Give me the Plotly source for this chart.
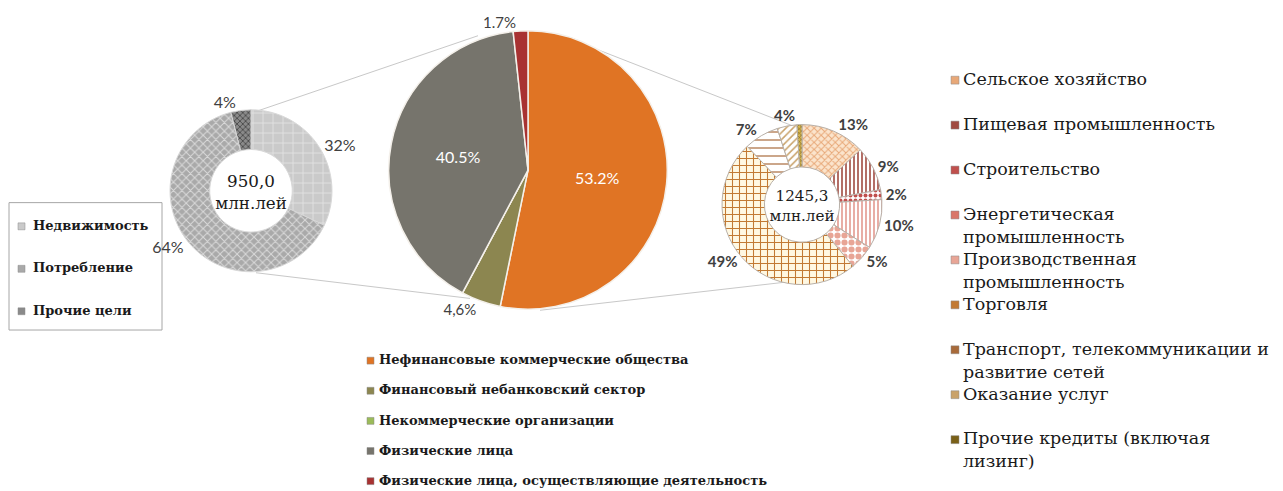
import math
import plotly.graph_objects as go

W, H = 1283, 491          # reference picture size
OFF = 8                   # page body margin of the html page
FW, FH = W - OFF, H - OFF  # figure size so that picture coords line up

# ---------------- data ----------------
sector_labels = ["Нефинансовые коммерческие общества", "Финансовый небанковский сектор",
                 "Некоммерческие организации", "Физические лица",
                 "Физические лица, осуществляющие деятельность"]
sector_values = [53.2, 4.6, 0.0, 40.5, 1.7]
sector_text = ["53.2%", "4,6%", "", "40.5%", "1.7%"]

indiv_labels = ["Недвижимость", "Потребление", "Прочие цели"]
indiv_values = [32, 64, 4]
indiv_text = ["32%", "64%", "4%"]
indiv_total = "950,0"

corp_labels = ["Сельское хозяйство", "Пищевая промышленность", "Строительство",
               "Энергетическая<br>промышленность", "Производственная<br>промышленность",
               "Торговля", "Транспорт, телекоммуникации и<br>развитие сетей",
               "Оказание услуг", "Прочие кредиты (включая<br>лизинг)"]
corp_values = [13, 9, 2, 10, 5, 49, 7, 4, 1]
corp_text = ["13%", "9%", "2%", "10%", "5%", "49%", "7%", "4%", ""]
corp_total = "1245,3"
unit = "млн.лей"

# ---------------- styles ----------------
sector_colors = ["#e07424", "#8c8650", "#9bbb59", "#76746c", "#a83232"]
sector_textpos = ["inside", "outside", "none", "inside", "outside"]

indiv_bg = ["#cacaca", "#a9a9a9", "#8a8a8a"]
indiv_fg = ["#e4e4e4", "#dadada", "#4a4a4a"]
indiv_shape = ["+", "x", "x"]
indiv_size = [10, 6, 4]
indiv_solid = [0.15, 0.3, 0.4]

corp_bg = ["#fbe4cc", "#ffffff", "#ffffff", "#ffffff", "#ffffff", "#fff8e2", "#ffffff", "#ffffff", "#d8b850"]
corp_fg = ["#e8a878", "#a04a40", "#c0504d", "#d9776a", "#e8a596", "#c27a34", "#a86a3a", "#c9a26a", "#7a6018"]
corp_shape = ["x", "|", ".", "|", ".", "+", "-", "/", "x"]
corp_size = [5, 4, 5, 4, 7, 7, 8, 5, 3]
corp_solid = [0.35, 0.4, 0.5, 0.3, 0.6, 0.28, 0.15, 0.3, 0.4]
# slices whose label is drawn as an annotation at the slice mid-angle (avoids a leader line)
corp_pos = ["outside", "outside", "outside", "outside", "outside", "outside", "outside", "none", "none"]

SERIF = "DejaVu Serif"
SANS = "Lato"


def px(x):
    return (x - OFF) / FW


def py(y):
    return 1 - (y - OFF) / FH


def dom(cx, cy, r):
    return dict(x=[px(cx - r), px(cx + r)], y=[py(cy + r), py(cy - r)])


fig = go.Figure()

# center pie
fig.add_trace(go.Pie(
    labels=sector_labels, values=sector_values, text=sector_text,
    textinfo="text", textposition=sector_textpos, insidetextorientation="horizontal",
    sort=False, direction="clockwise", rotation=0,
    marker=dict(colors=sector_colors, line=dict(color="#f4f0ea", width=1.5)),
    insidetextfont=dict(family=SANS, size=16, color="white"),
    outsidetextfont=dict(family=SANS, size=15, color="#404040"),
    domain=dom(528, 166, 141), showlegend=False, hoverinfo="label+percent",
))

# left donut
fig.add_trace(go.Pie(
    labels=indiv_labels, values=indiv_values, text=indiv_text,
    textinfo="text", textposition="outside", hole=0.51,
    sort=False, direction="clockwise", rotation=0,
    marker=dict(colors=indiv_bg, line=dict(color="#d8d8d8", width=1),
                pattern=dict(shape=indiv_shape, fgcolor=indiv_fg, bgcolor=indiv_bg,
                             size=indiv_size, solidity=indiv_solid, fillmode="replace")),
    outsidetextfont=dict(family=SANS, size=16, color="#404040"),
    title=dict(text=indiv_total + "<br>" + unit, position="middle center",
               font=dict(family=SERIF, size=17.5, color="#1a1a1a")),
    domain=dom(251, 187, 82), showlegend=False, hoverinfo="label+percent",
))

# right donut
RCX, RCY, RR = 802, 201, 81
fig.add_trace(go.Pie(
    labels=corp_labels, values=corp_values, text=corp_text,
    textinfo="text", textposition=corp_pos, hole=0.47,
    sort=False, direction="clockwise", rotation=0,
    marker=dict(colors=corp_bg, line=dict(color="#b8b0a8", width=1),
                pattern=dict(shape=corp_shape, fgcolor=corp_fg, bgcolor=corp_bg,
                             size=corp_size, solidity=corp_solid, fillmode="replace")),
    outsidetextfont=dict(family=SANS, size=15, color="#404040", weight="bold"),
    title=dict(text=corp_total + "<br>" + unit, position="middle center",
               font=dict(family=SERIF, size=17, color="#1a1a1a")),
    domain=dom(RCX, RCY, RR), showlegend=False, hoverinfo="label+percent",
))

shapes = []
annotations = []

# labels of the right donut not drawn by the pie: at slice mid-angle just outside the ring
tot = sum(corp_values)
cum = 0.0
for v, t, pos in zip(corp_values, corp_text, corp_pos):
    mid = (cum + v / 2) / tot * 2 * math.pi
    cum += v
    if pos == "none" and t:
        rr = RR + 11
        annotations.append(dict(xref="paper", yref="paper",
                                x=px(RCX + rr * math.sin(mid)), y=py(RCY - rr * math.cos(mid)),
                                xanchor="center", yanchor="middle", showarrow=False, text="<b>" + t + "</b>",
                                font=dict(family=SANS, size=15, color="#404040")))

# connector lines
for (x0, y0, x1, y1) in [(258, 106, 478, 30), (256, 270, 470, 296),
                         (557, 28, 792, 121), (540, 308, 790, 279)]:
    shapes.append(dict(type="line", xref="paper", yref="paper", layer="below",
                       x0=px(x0), y0=py(y0), x1=px(x1), y1=py(y1),
                       line=dict(color="#c8c8c8", width=1)))

# left legend box
shapes.append(dict(type="rect", xref="paper", yref="paper", layer="below",
                   x0=px(9), y0=py(199), x1=px(162), y1=py(328),
                   line=dict(color="#a6a6a6", width=1), fillcolor="white"))


def legend(labels, colors, x_sw, x_txt, y0, step, size, bold, sw=7):
    for i, lab in enumerate(labels):
        yc = y0 + i * step
        shapes.append(dict(type="rect", xref="paper", yref="paper",
                           x0=px(x_sw), x1=px(x_sw + sw), y0=py(yc - sw / 2 + 1), y1=py(yc + sw / 2 + 1),
                           fillcolor=colors[i], line=dict(color="#8a8a8a", width=0.5)))
        txt = "<b>" + lab + "</b>" if bold else lab
        annotations.append(dict(xref="paper", yref="paper", x=px(x_txt),
                                y=py(yc - 0.65 * size - 1), xanchor="left", yanchor="top",
                                align="left", showarrow=False, text=txt,
                                font=dict(family=SERIF, size=size, color="#1a1a1a")))


legend(indiv_labels, indiv_bg, 18, 31, 222, 43, 13, True)
legend(sector_labels, sector_colors, 367, 377, 358, 30.5, 13, True)
legend(corp_labels, corp_fg, 951, 961, 74, 45.5, 17.5, False, sw=8)

fig.update_layout(
    width=FW, height=FH, margin=dict(l=0, r=0, t=0, b=0),
    paper_bgcolor="white", plot_bgcolor="white",
    shapes=shapes, annotations=annotations, showlegend=False,
)

fig.write_html("out.html")
